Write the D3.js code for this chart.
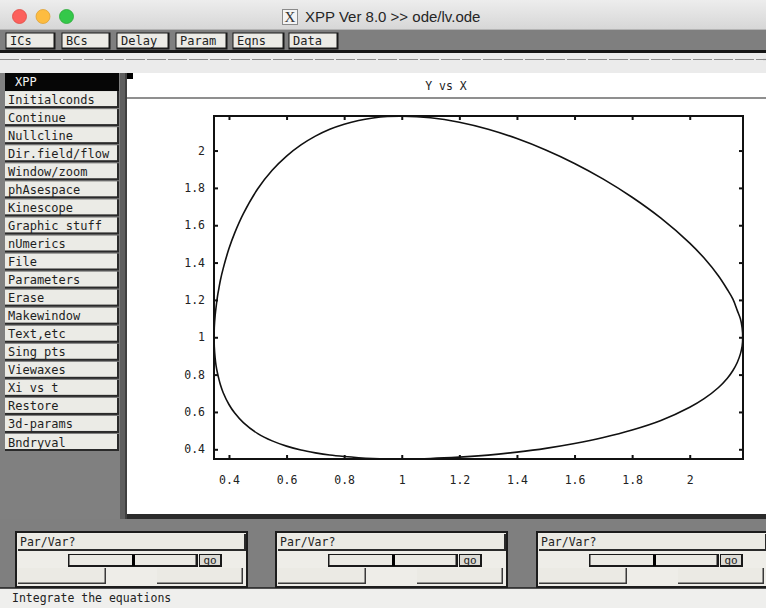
<!DOCTYPE html>
<html>
<head>
<meta charset="utf-8">
<script src="https://cdn.jsdelivr.net/npm/d3@7/dist/d3.min.js"></script>
<style>
  html, body { margin: 0; padding: 0; background: #7f7f7f; }
  svg { display: block; }
  .mono { font-family: "DejaVu Sans Mono", "Liberation Mono", monospace; }
</style>
</head>
<body>
<svg id="win" width="766" height="608"></svg>
<script>
// ---- Data: closed orbit of the Lotka-Volterra system (X, Y) ----
const orbitX = [
  2.184, 2.182, 2.176, 2.165, 2.150, 2.130, 2.100, 2.050, 2.000, 1.900,
  1.800, 1.700, 1.600, 1.500, 1.400, 1.300, 1.200, 1.100, 1.000, 0.950,
  0.900, 0.850, 0.800, 0.750, 0.700, 0.650, 0.600, 0.550, 0.500, 0.450,
  0.420, 0.400, 0.380, 0.370, 0.365, 0.360, 0.355, 0.352, 0.349, 0.3485,
  0.349, 0.352, 0.355, 0.360, 0.365, 0.370, 0.380, 0.400, 0.420, 0.450,
  0.500, 0.550, 0.600, 0.650, 0.700, 0.750, 0.800, 0.850, 0.900, 0.950,
  1.000, 1.100, 1.200, 1.300, 1.400, 1.500, 1.600, 1.700, 1.800, 1.900,
  2.000, 2.050, 2.100, 2.130, 2.150, 2.165, 2.176, 2.182
];
const orbitY = [
  1.000, 1.050, 1.099, 1.144, 1.204, 1.257, 1.328, 1.424, 1.5045, 1.638,
  1.750, 1.847, 1.931, 2.003, 2.064, 2.114, 2.1515, 2.1756, 2.1843, 2.182,
  2.174, 2.161, 2.141, 2.114, 2.077, 2.030, 1.970, 1.894, 1.795, 1.662,
  1.559, 1.475, 1.369, 1.304, 1.262, 1.218, 1.159, 1.117, 1.052, 1.000,
  0.950, 0.889, 0.850, 0.8085, 0.776, 0.747, 0.703, 0.640, 0.594, 0.543,
  0.484, 0.445, 0.417, 0.396, 0.381, 0.369, 0.361, 0.355, 0.351, 0.349,
  0.3485, 0.3508, 0.358, 0.369, 0.385, 0.405, 0.431, 0.463, 0.503, 0.554,
  0.625, 0.671, 0.731, 0.779, 0.822, 0.865, 0.911, 0.952
];
const xWindow = [0.348, 2.185];
const yWindow = [0.348, 2.185];
const xTicks = [0.4, 0.6, 0.8, 1, 1.2, 1.4, 1.6, 1.8, 2];
const yTicks = [0.4, 0.6, 0.8, 1, 1.2, 1.4, 1.6, 1.8, 2];
const plotTitle = "Y vs X";
const windowTitle = "XPP Ver 8.0 >> ode/lv.ode";
const topButtons = ["ICs", "BCs", "Delay", "Param", "Eqns", "Data"];
const menuItems = ["XPP", "Initialconds", "Continue", "Nullcline", "Dir.field/flow",
  "Window/zoom", "phAsespace", "Kinescope", "Graphic stuff", "nUmerics", "File",
  "Parameters", "Erase", "Makewindow", "Text,etc", "Sing pts", "Viewaxes",
  "Xi vs t", "Restore", "3d-params", "Bndryval"];
const sliderLabels = ["Par/Var?", "Par/Var?", "Par/Var?"];
const statusText = "Integrate the equations";

const svg = d3.select("#win");
const MONO = "DejaVu Sans Mono, Liberation Mono, monospace";

// ---- window background ----
svg.append("rect").attr("width", 766).attr("height", 608).attr("fill", "#7f7f7f");

// ---- title bar ----
const defs = svg.append("defs");
const tg = defs.append("linearGradient").attr("id", "tbar").attr("x1", 0).attr("x2", 0).attr("y1", 0).attr("y2", 1);
tg.append("stop").attr("offset", "0%").attr("stop-color", "#ededed");
tg.append("stop").attr("offset", "100%").attr("stop-color", "#d6d6d6");
svg.append("rect").attr("x", 0).attr("y", 0).attr("width", 766).attr("height", 30).attr("fill", "url(#tbar)");
svg.append("line").attr("x1", 0).attr("x2", 766).attr("y1", 29.5).attr("y2", 29.5).attr("stroke", "#b4b4b4");

const lights = [["#fc605c", "#de4a43"], ["#fdbc40", "#dea236"], ["#34c84a", "#27aa35"]];
svg.selectAll("circle.light").data(lights).join("circle")
  .attr("class", "light")
  .attr("cx", (d, i) => 19.5 + i * 23.5).attr("cy", 16.5).attr("r", 7)
  .attr("fill", d => d[0]).attr("stroke", d => d[1]).attr("stroke-width", 0.8);

// X11 icon + title text
svg.append("rect").attr("x", 282.5).attr("y", 9.5).attr("width", 15).attr("height", 15)
  .attr("fill", "#f4f4f4").attr("stroke", "#8a8a8a");
svg.append("text").attr("x", 290).attr("y", 22).attr("text-anchor", "middle")
  .attr("font-family", "Liberation Serif, DejaVu Serif, serif").attr("font-size", 15)
  .attr("fill", "#333").text("X");
svg.append("text").attr("x", 305).attr("y", 22)
  .attr("font-family", "Liberation Sans, Arial, sans-serif").attr("font-size", 15)
  .attr("fill", "#262626").text(windowTitle);

// ---- top button row ----
const btnX = [5, 61, 116, 175, 232, 288];
const btnW = [50, 49, 53, 52, 52, 50];
const bRow = svg.append("g");
topButtons.forEach((b, i) => {
  const g = bRow.append("g").attr("transform", `translate(${btnX[i]},32)`);
  g.append("rect").attr("x", 0.5).attr("y", 0.5).attr("width", btnW[i]).attr("height", 17)
    .attr("fill", "#1a1a1a");
  g.append("rect").attr("x", 1.5).attr("y", 1.5).attr("width", btnW[i] - 3).attr("height", 14)
    .attr("fill", "#ecebe6");
  g.append("text").attr("x", 5).attr("y", 13).attr("font-family", MONO).attr("font-size", 12)
    .attr("fill", "#222").text(b);
});
svg.append("rect").attr("x", 0).attr("y", 50).attr("width", 766).attr("height", 3).attr("fill", "#151515");
svg.append("rect").attr("x", 0).attr("y", 53).attr("width", 766).attr("height", 20).attr("fill", "#ebebeb");
svg.append("line").attr("x1", 0).attr("x2", 766).attr("y1", 59.5).attr("y2", 59.5)
  .attr("stroke", "#8c8c8c").attr("stroke-width", 1.2).attr("stroke-dasharray", "19,2");

// ---- left command menu ----
const menu = svg.append("g");
menu.append("rect").attr("x", 0).attr("y", 73).attr("width", 127).attr("height", 446).attr("fill", "#808080");
menu.append("rect").attr("x", 120).attr("y", 73).attr("width", 7).attr("height", 446).attr("fill", "#5e5e5e");
menu.append("line").attr("x1", 126).attr("x2", 126).attr("y1", 73).attr("y2", 519).attr("stroke", "#222");
menu.selectAll("g.item").data(menuItems).join("g")
  .attr("class", "item")
  .attr("transform", (d, i) => `translate(5,${73 + i * 18.05})`)
  .each(function (d, i) {
    const g = d3.select(this);
    if (i === 0) {
      g.append("rect").attr("width", 114).attr("height", 18).attr("fill", "#060606");
      g.append("text").attr("x", 10).attr("y", 13).attr("font-family", MONO).attr("font-size", 12)
        .attr("fill", "#f2f2f2").text(d);
    } else {
      g.append("rect").attr("width", 114).attr("height", 17).attr("fill", "#2a2a2a");
      g.append("rect").attr("x", 0).attr("y", 0).attr("width", 112).attr("height", 15).attr("fill", "#ebebe6");
      g.append("text").attr("x", 3).attr("y", 12.5).attr("font-family", MONO).attr("font-size", 12)
        .attr("fill", "#1e1e1e").text(d);
    }
  });

// ---- graphics window ----
svg.append("rect").attr("x", 127).attr("y", 73).attr("width", 639).attr("height", 441).attr("fill", "#ffffff");
svg.append("rect").attr("x", 127).attr("y", 73).attr("width", 6).attr("height", 6).attr("fill", "#000");
svg.append("line").attr("x1", 127).attr("x2", 766).attr("y1", 98).attr("y2", 98)
  .attr("stroke", "#6a6a6a").attr("stroke-width", 1.5);
svg.append("text").attr("x", 446).attr("y", 90).attr("text-anchor", "middle")
  .attr("font-family", MONO).attr("font-size", 11.5).attr("fill", "#222").text(plotTitle);
svg.append("rect").attr("x", 127).attr("y", 514).attr("width", 639).attr("height", 5).attr("fill", "#2b2b2b");

// ---- plot ----
const frame = { left: 214, right: 743, top: 116, bottom: 459 };
const x = d3.scaleLinear().domain(xWindow).range([frame.left, frame.right]);
const y = d3.scaleLinear().domain(yWindow).range([frame.bottom, frame.top]);
const fmt = d => d3.format("~g")(d);

const plot = svg.append("g");
const axB = plot.append("g").attr("transform", `translate(0,${frame.bottom})`)
  .call(d3.axisBottom(x).tickValues(xTicks).tickFormat(fmt).tickSize(-4).tickSizeOuter(0).tickPadding(17));
const axL = plot.append("g").attr("transform", `translate(${frame.left},0)`)
  .call(d3.axisLeft(y).tickValues(yTicks).tickFormat(fmt).tickSize(-4).tickSizeOuter(0).tickPadding(9));
const axT = plot.append("g").attr("transform", `translate(0,${frame.top})`)
  .call(d3.axisTop(x).tickValues(xTicks).tickFormat("").tickSize(-4).tickSizeOuter(0));
const axR = plot.append("g").attr("transform", `translate(${frame.right},0)`)
  .call(d3.axisRight(y).tickValues(yTicks).tickFormat("").tickSize(-4).tickSizeOuter(0));
[axB, axL, axT, axR].forEach(a => {
  a.select(".domain").remove();
  a.selectAll(".tick line").attr("stroke", "#111").attr("stroke-width", 2);
  a.selectAll(".tick text").attr("font-family", MONO).attr("font-size", 11.5).attr("fill", "#222");
});

const pts = orbitX.map((v, i) => [v, orbitY[i]]);
plot.append("path")
  .attr("d", d3.line().x(d => x(d[0])).y(d => y(d[1])).curve(d3.curveCatmullRomClosed)(pts))
  .attr("fill", "none").attr("stroke", "#111").attr("stroke-width", 1.6);

plot.append("rect").attr("x", frame.left).attr("y", frame.top)
  .attr("width", frame.right - frame.left).attr("height", frame.bottom - frame.top)
  .attr("fill", "none").attr("stroke", "#111").attr("stroke-width", 2);

// ---- parameter slider panels ----
const panelX = [15, 275, 536];
sliderLabels.forEach((lab, i) => {
  const g = svg.append("g").attr("transform", `translate(${panelX[i]},531)`);
  g.append("rect").attr("x", 0).attr("y", 0).attr("width", 233).attr("height", 57).attr("fill", "#1c1c1c");
  g.append("rect").attr("x", 2).attr("y", 2).attr("width", 229).attr("height", 53).attr("fill", "#eeede8");
  // text field
  g.append("rect").attr("x", 3).attr("y", 3).attr("width", 228).attr("height", 17).attr("fill", "#2a2a2a");
  g.append("rect").attr("x", 3).attr("y", 3).attr("width", 226).attr("height", 15).attr("fill", "#ebeae4");
  g.append("text").attr("x", 5).attr("y", 15).attr("font-family", MONO).attr("font-size", 11.5)
    .attr("fill", "#222").text(lab);
  // slider track
  g.append("rect").attr("x", 53).attr("y", 23).attr("width", 130).attr("height", 13).attr("fill", "#1a1a1a");
  g.append("rect").attr("x", 54.5).attr("y", 24).attr("width", 126).attr("height", 10).attr("fill", "#ebeae4");
  g.append("rect").attr("x", 117).attr("y", 24).attr("width", 3).attr("height", 11).attr("fill", "#000");
  // go button
  g.append("rect").attr("x", 184).attr("y", 23).attr("width", 23).attr("height", 13).attr("fill", "#1a1a1a");
  g.append("rect").attr("x", 185).attr("y", 24).attr("width", 20).attr("height", 10).attr("fill", "#dcdbd5");
  g.append("text").attr("x", 195).attr("y", 33).attr("text-anchor", "middle").attr("font-family", MONO)
    .attr("font-size", 11).attr("fill", "#222").text("go");
  // lower buttons
  [[3, 88], [142, 86]].forEach(([bx, bw]) => {
    g.append("rect").attr("x", bx).attr("y", 37).attr("width", bw).attr("height", 16).attr("fill", "#3a3a3a");
    g.append("rect").attr("x", bx).attr("y", 37).attr("width", bw - 1.5).attr("height", 14.5).attr("fill", "#ebeae4");
  });
});

// ---- status line ----
svg.append("rect").attr("x", 0).attr("y", 588).attr("width", 766).attr("height", 20).attr("fill", "#efefed");
svg.append("line").attr("x1", 0).attr("x2", 766).attr("y1", 588).attr("y2", 588).attr("stroke", "#1e1e1e").attr("stroke-width", 1.5);
svg.append("text").attr("x", 12).attr("y", 602).attr("font-family", MONO).attr("font-size", 11.5)
  .attr("fill", "#222").text(statusText);
</script>
</body>
</html>
